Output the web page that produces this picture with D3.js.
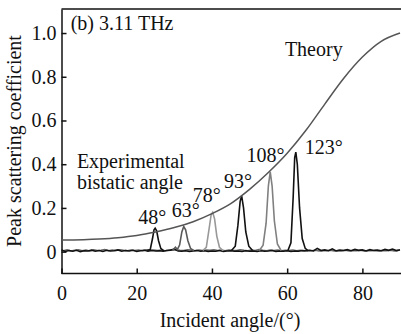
<!DOCTYPE html>
<html>
<head>
<meta charset="utf-8">
<script src="https://cdn.jsdelivr.net/npm/d3@7"></script>
<style>
  body { margin: 0; background: #fff; }
  .axis path, .axis line { stroke: #111; stroke-width: 1.5; }
</style>
</head>
<body>
<div id="chart"></div>
<script>
const xTicks = [0, 20, 40, 60, 80];
const yTicks = [0, 0.2, 0.4, 0.6, 0.8, 1.0];

// theory curve [angle, coefficient]
const theory = [[0,0.053],[10,0.058],[15,0.064],[20,0.074],[25,0.09],[30,0.11],[35,0.137],
  [40,0.174],[45,0.22],[50,0.285],[55,0.362],[60,0.45],[65,0.555],[70,0.675],[75,0.792],
  [80,0.89],[85,0.962],[90,1.0]];

// measured baselines (black at whole degrees, gray at half degrees)
const noiseBlack = [0.007,0.001,0.005,0.002,0.006,0.000,0.004,0.003,0.007,0.002,
  0.005,0.001,0.006,0.003,0.004,0.008,0.002,0.005,0.003,0.006,
  0.001,0.004,0.006,0.002,0.005,0.003,0.004,0.002,0.005,0.007,
  0.012,0.003,0.002,0.004,0.001,0.003,0.005,0.002,0.004,0.001,
  0.003,0.002,0.005,0.001,0.003,0.004,0.002,0.003,0.001,0.004,
  0.002,0.003,0.001,0.004,0.002,0.003,0.005,0.001,0.003,0.002,
  0.004,0.001,0.003,0.002,0.005,0.004,0.006,0.003,0.015,0.005,
  0.008,0.004,0.013,0.003,0.007,0.005,0.009,0.004,0.010,0.006,
  0.008,0.003,0.009,0.005,0.007,0.004,0.010,0.006,0.012,0.005,0.008];
const noiseGray = [0.004,0.008,0.003,0.006,0.009,0.004,0.007,0.003,0.008,0.005,
  0.006,0.010,0.004,0.007,0.005,0.009,0.006,0.004,0.008,0.005,
  0.007,0.004,0.009,0.006,0.008,0.005,0.007,0.004,0.006,0.009,
  0.008,0.006,0.005,0.009,0.007,0.004,0.008,0.005,0.007,0.006,
  0.009,0.005,0.007,0.004,0.008,0.006,0.005,0.009,0.006,0.004,
  0.007,0.005,0.010,0.006,0.004,0.008,0.005,0.007,0.004,0.006,
  0.005,0.008,0.004,0.006,0.003,0.005,0.004,0.006,0.003,0.005,
  0.004,0.006,0.003,0.005,0.004,0.006,0.003,0.005,0.004,0.006,
  0.003,0.005,0.004,0.006,0.003,0.005,0.004,0.006,0.003,0.005];

// peaks, one per bistatic angle
const peak48 = [[22.8,0.005],[23.6,0.01],[24.2,0.06],[24.6,0.1],[24.9,0.107],[25.3,0.095],[25.8,0.05],[26.4,0.015],[27.2,0.004]];
const peak63 = [[29.5,0.005],[30.3,0.02],[30.8,0.01],[31.4,0.03],[32.0,0.09],[32.5,0.115],[33.0,0.1],[33.6,0.05],[34.3,0.015],[35.2,0.004]];
const peak78 = [[37.6,0.005],[38.5,0.02],[39.2,0.1],[39.8,0.17],[40.2,0.18],[40.7,0.15],[41.3,0.07],[42.0,0.02],[43.0,0.004]];
const peak93 = [[45.2,0.005],[46.2,0.025],[46.9,0.12],[47.5,0.23],[47.9,0.255],[48.4,0.2],[49.0,0.09],[49.8,0.025],[50.8,0.005]];
const peak108 = [[52.6,0.005],[53.6,0.03],[54.4,0.13],[55.0,0.3],[55.5,0.365],[56.0,0.3],[56.6,0.14],[57.4,0.035],[58.4,0.005]];
const peak123 = [[60.2,0.005],[61.0,0.04],[61.6,0.25],[62.0,0.43],[62.3,0.455],[62.7,0.40],[63.3,0.2],[64.0,0.06],[64.8,0.015],[65.6,0.004]];

const angleLabels = ["48°", "63°", "78°", "93°", "108°", "123°"];
const labelAnchors = [[20.4,0.125],[29.3,0.159],[34.9,0.225],[43.2,0.29],[49.2,0.41],[64.7,0.447]];

const width = 401, height = 334;
const margin = { top: 9, right: 1, bottom: 60.5, left: 61.5 };
const FONT = "Liberation Serif";

const svg = d3.select("#chart").append("svg")
    .attr("width", width)
    .attr("height", height)
    .attr("font-family", FONT)
    .attr("font-size", 20);

const x = d3.scaleLinear().domain([0, 90]).range([margin.left, 400]);
const y = d3.scaleLinear().domain([-0.1, 1.11]).range([height - margin.bottom, margin.top]);

// top frame line
svg.append("line")
    .attr("x1", margin.left).attr("x2", width)
    .attr("y1", margin.top).attr("y2", margin.top)
    .attr("stroke", "#111").attr("stroke-width", 1.5);

svg.append("g")
    .attr("class", "axis")
    .attr("transform", `translate(0,${height - margin.bottom})`)
    .call(d3.axisBottom(x).tickValues(xTicks).tickSizeInner(-5).tickSizeOuter(0).tickPadding(12))
    .call(g => g.select(".domain").attr("d", `M${margin.left},0H${width}`))
    .attr("font-family", FONT).attr("font-size", 20)
    .call(g => g.selectAll("text").attr("fill", "#111"));

svg.append("g")
    .attr("class", "axis")
    .attr("transform", `translate(${margin.left},0)`)
    .call(d3.axisLeft(y).tickValues(yTicks).tickSizeInner(-5).tickSizeOuter(0).tickPadding(5)
        .tickFormat(d => d === 0 ? "0" : d.toFixed(1)))
    .attr("font-family", FONT).attr("font-size", 20)
    .call(g => g.selectAll("text").attr("fill", "#111"));

const line = d3.line().x(d => x(d[0])).y(d => y(d[1]));

// baselines
svg.append("path")
    .datum(noiseGray.map((v, i) => [i + 0.5, v]))
    .attr("d", line).attr("fill", "none").attr("stroke", "#666").attr("stroke-width", 1.5);
svg.append("path")
    .datum(noiseBlack.map((v, i) => [i, v]))
    .attr("d", line).attr("fill", "none").attr("stroke", "#111").attr("stroke-width", 1.6);

// peaks
const peaks = [peak48, peak63, peak78, peak93, peak108, peak123];
const peakColors = ["#111", "#5a5a5a", "#999", "#111", "#808080", "#111"];
svg.selectAll(".peak")
    .data(peaks)
    .join("path")
    .attr("class", "peak")
    .attr("d", line)
    .attr("fill", "none")
    .attr("stroke", (d, i) => peakColors[i])
    .attr("stroke-width", 1.6);

// theory
svg.append("path")
    .datum(theory)
    .attr("d", line.curve(d3.curveMonotoneX))
    .attr("fill", "none").attr("stroke", "#555").attr("stroke-width", 1.5);

// labels
svg.selectAll(".alabel")
    .data(angleLabels)
    .join("text")
    .attr("class", "alabel")
    .attr("x", (d, i) => x(labelAnchors[i][0]))
    .attr("y", (d, i) => y(labelAnchors[i][1]))
    .attr("fill", "#111")
    .text(d => d);

svg.append("text").attr("x", x(59.4)).attr("y", y(0.894)).attr("fill", "#111").text("Theory");
svg.append("text").attr("x", x(4.1)).attr("y", y(0.381)).attr("fill", "#111").text("Experimental");
svg.append("text").attr("x", x(4.1)).attr("y", y(0.285)).attr("fill", "#111").text("bistatic angle");
svg.append("text").attr("x", x(2.45)).attr("y", y(1.015)).attr("fill", "#111").text("(b) 3.11 THz");

// axis titles
svg.append("text")
    .attr("text-anchor", "middle")
    .attr("x", 230).attr("y", 327)
    .attr("fill", "#111")
    .text("Incident angle/(°)");

svg.append("text")
    .attr("text-anchor", "middle")
    .attr("transform", "translate(21,141) rotate(-90)")
    .attr("fill", "#111")
    .text("Peak scattering coefficient");
</script>
</body>
</html>
